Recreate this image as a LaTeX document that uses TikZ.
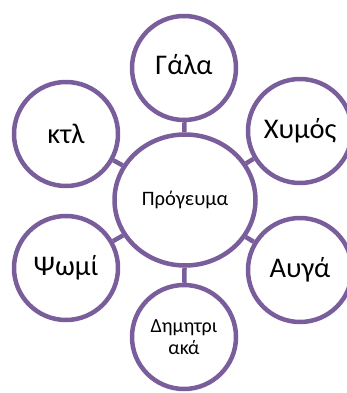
\documentclass[tikz,border=0pt]{standalone}
\usepackage{fontspec}
\setmainfont{Carlito}
\usetikzlibrary{shapes.geometric}
\definecolor{spokepurple}{HTML}{7A5E9C}
\begin{document}
\begin{tikzpicture}[x=1pt,y=-1pt,line join=round,
  leaf/.style={circle,draw=spokepurple,line width=4.5pt,fill=white,minimum size=104pt,inner sep=0pt,font=\fontsize{28.5}{31}\selectfont},
  hub/.style={ellipse,draw=spokepurple,line width=4.5pt,fill=white,minimum width=141pt,minimum height=131pt,inner sep=0pt,font=\fontsize{20.5}{23}\selectfont},
  spoke/.style={draw=spokepurple,line width=4.5pt}]
\useasboundingbox (0,0) rectangle (347,393);
\node[hub] (breakfast) at (185,200) {Πρόγευμα};
\node[leaf,text depth=7pt] (milk) at (184,68) {Γάλα};
\node[leaf] (juice) at (300,131) {Χυμός};
\node[leaf] (eggs) at (300,270) {Αυγά};
\node[leaf,align=center,font=\fontsize{20}{22}\selectfont] (rusks) at (184,337) {Δημητρι\\ακά};
\node[leaf] (bread) at (66,268) {Ψωμί};
\node[leaf] (etc) at (66,134) {κτλ};
\foreach \n in {milk,juice,eggs,rusks,bread,etc}
\draw[spoke] (breakfast) -- (\n);
\end{tikzpicture}
\end{document}
